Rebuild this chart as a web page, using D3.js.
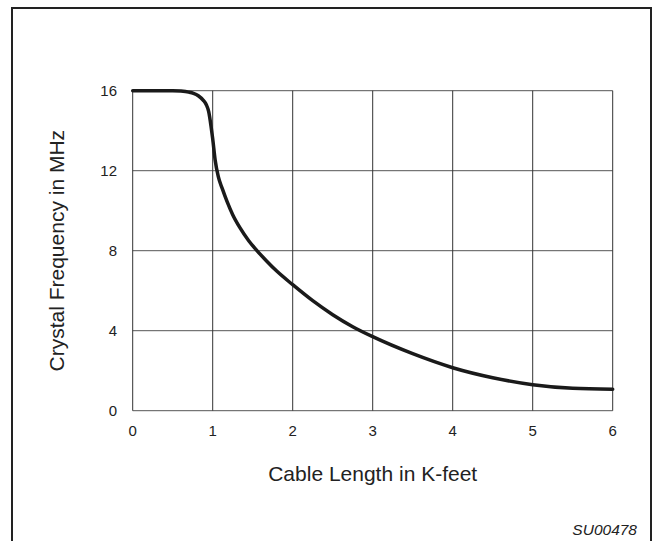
<!DOCTYPE html>
<html>
<head>
<meta charset="utf-8">
<script src="https://cdn.jsdelivr.net/npm/d3@7"></script>
<style>
  body { margin: 0; background: #fff; }
  svg text { font-family: 'Liberation Sans', Arial, sans-serif; fill: #222; }
</style>
</head>
<body>
<svg id="chart" width="654" height="541"></svg>
<script>
// cable length (K-feet) vs crystal frequency (MHz)
const cableLength = [0, 0.5, 0.6, 0.7, 0.76, 0.82, 0.88, 0.92, 0.95, 0.98, 1.0, 1.03, 1.07, 1.12, 1.18, 1.25, 1.34, 1.45, 1.55, 1.67, 1.8, 2.0, 2.25, 2.5, 2.75, 3.0, 3.5, 4.0, 4.5, 5.0, 5.5, 6.0]
const frequency = [16, 16, 15.98, 15.93, 15.87, 15.75, 15.53, 15.3, 14.95, 14.2, 13.6, 12.55, 11.7, 11.1, 10.45, 9.8, 9.15, 8.5, 8.02, 7.5, 6.98, 6.3, 5.5, 4.8, 4.2, 3.7, 2.85, 2.15, 1.65, 1.3, 1.12, 1.07]
const xTicks = [0, 1, 2, 3, 4, 5, 6]
const yTicks = [0, 4, 8, 12, 16]

const svg = d3.select('#chart')

// outer frame (bottom edge runs off the page)
svg.append('path')
    .attr('d', 'M12,560 V8 H651 V560')
    .attr('fill', 'none')
    .attr('stroke', '#222')
    .attr('stroke-width', 2)

const x = d3.scaleLinear().domain([0, 6]).range([132.7, 612.7])
const y = d3.scaleLinear().domain([0, 16]).range([410.7, 90.7])

// grid
svg.append('g')
    .selectAll('line')
    .data(yTicks)
    .join('line')
    .attr('x1', x(0))
    .attr('x2', x(6))
    .attr('y1', d => y(d))
    .attr('y2', d => y(d))
    .attr('stroke', '#555')
    .attr('stroke-width', 1)

svg.append('g')
    .selectAll('line')
    .data(xTicks)
    .join('line')
    .attr('x1', d => x(d))
    .attr('x2', d => x(d))
    .attr('y1', y(0))
    .attr('y2', y(16))
    .attr('stroke', '#333')
    .attr('stroke-width', 1)

// tick labels
svg.append('g')
    .selectAll('text')
    .data(xTicks)
    .join('text')
    .attr('x', d => x(d))
    .attr('y', 436)
    .attr('text-anchor', 'middle')
    .attr('font-size', 15)
    .text(d => d)

svg.append('g')
    .selectAll('text')
    .data(yTicks)
    .join('text')
    .attr('x', 117)
    .attr('y', d => y(d) + 5.5)
    .attr('text-anchor', 'end')
    .attr('font-size', 15)
    .text(d => d)

// curve
const points = cableLength.map((c, i) => [c, frequency[i]])

svg.append('path')
    .datum(points)
    .attr('d', d3.line().x(d => x(d[0])).y(d => y(d[1])).curve(d3.curveMonotoneX))
    .attr('fill', 'none')
    .attr('stroke', '#1a1a1a')
    .attr('stroke-width', 3.5)
    .attr('stroke-linecap', 'round')

// axis titles
svg.append('text')
    .attr('x', x(3))
    .attr('y', 481)
    .attr('text-anchor', 'middle')
    .attr('font-size', 21)
    .text('Cable Length in K-feet')

svg.append('text')
    .attr('transform', `translate(64,${y(8)}) rotate(-90)`)
    .attr('text-anchor', 'middle')
    .attr('font-size', 21)
    .text('Crystal Frequency in MHz')

svg.append('text')
    .attr('x', 637)
    .attr('y', 535)
    .attr('text-anchor', 'end')
    .attr('font-size', 15.5)
    .attr('font-style', 'italic')
    .text('SU00478')
</script>
</body>
</html>
